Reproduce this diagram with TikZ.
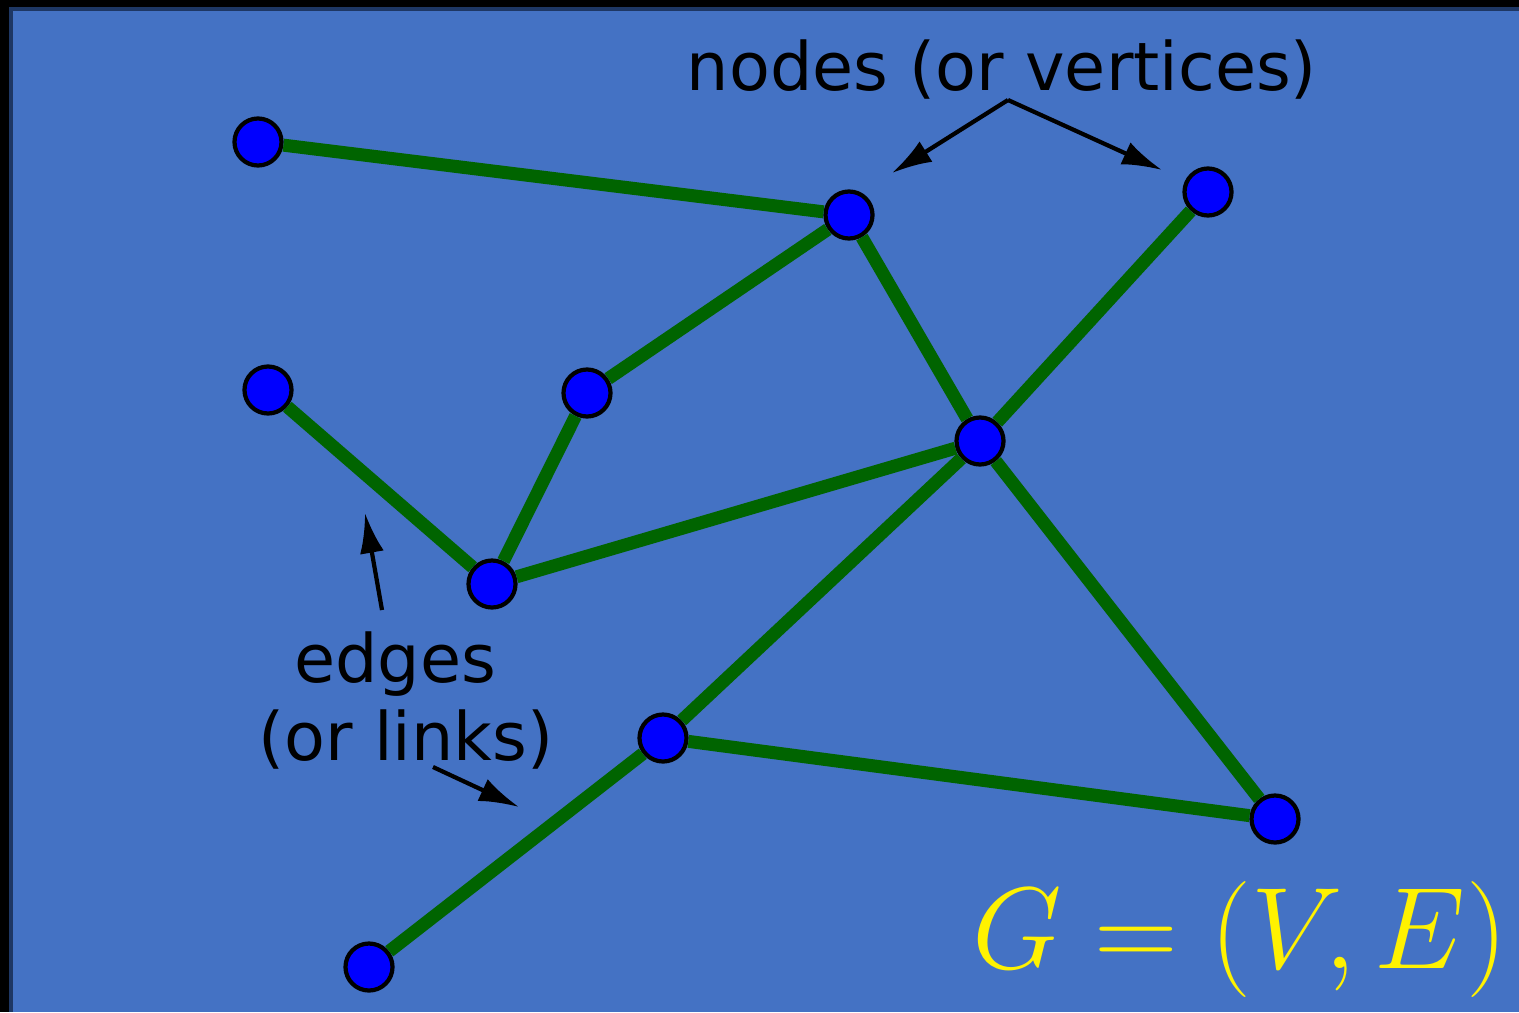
\documentclass[tikz,border=0pt]{standalone}
\usepackage{fix-cm}
\usepackage{fontspec}
\newfontfamily\labelfont{DejaVu Sans}
\usetikzlibrary{arrows.meta}
\definecolor{bgblue}{RGB}{68,114,196}
\definecolor{edgegreen}{RGB}{0,100,0}
\definecolor{vertexblue}{RGB}{0,0,255}
\definecolor{framedark}{RGB}{30,55,100}

\begin{document}
\begin{tikzpicture}[
    x=0.01cm, y=-0.01cm,
    vertex/.style={circle, draw=black, line width=1.2pt, fill=vertexblue, inner sep=0pt, minimum size=0.47cm},
    link/.style={edgegreen, line width=0.13cm},
    pointer/.style={-{Latex[length=0.4cm,width=0.24cm]}, line width=1.2pt, black},
    caption/.style={font=\labelfont\fontsize{19}{22}\selectfont, text=black, inner sep=0pt, align=center}
]
    \useasboundingbox (0,0) rectangle (1519,1012);
    % background
    \fill[black] (0,0) rectangle (1519,1012);
    \fill[bgblue] (10,8) rectangle (1519,1012);
    \draw[framedark, line width=1pt] (11,1012) -- (11,9) -- (1519,9);
    % vertices
    \node (a) [vertex] at (258,142) {};
    \node (b) [vertex] at (849,215) {};
    \node (c) [vertex] at (1208,192) {};
    \node (d) [vertex] at (268,390) {};
    \node (e) [vertex] at (587,393) {};
    \node (f) [vertex] at (980,441) {};
    \node (g) [vertex] at (492,584) {};
    \node (h) [vertex] at (663,738) {};
    \node (i) [vertex] at (1275,819) {};
    \node (j) [vertex] at (369,967) {};
    % edges
    \foreach \u/\v in {a/b, b/e, b/f, c/f, d/g, e/g, g/f, f/h, f/i, h/i, h/j}
        \draw [link] (\u) -- (\v);
    % labels
    \node (nodestext) [caption, anchor=base] at (1002,90) {nodes (or vertices)};
    \node (edgestext) [caption, anchor=base] at (395,682) {edges};
    \node (linkstext) [caption, anchor=base] at (406,760) {(or links)};
    \node (formula) [anchor=base, inner sep=0pt, text=yellow, font=\fontsize{33}{40}\selectfont] at (1240,968) {$G=(V,E)$};
    % pointers
    \coordinate (nodesfork) at (1008,100);
    \coordinate (nodesleft) at (892,173);
    \coordinate (nodesright) at (1162,170);
    \coordinate (edgesfoot) at (382,610);
    \coordinate (edgestip) at (365,513);
    \coordinate (linksfoot) at (433,767);
    \coordinate (linkstip) at (519,807);
    \draw [pointer] (nodesfork) -- (nodesleft);
    \draw [pointer] (nodesfork) -- (nodesright);
    \draw [pointer] (edgesfoot) -- (edgestip);
    \draw [pointer] (linksfoot) -- (linkstip);
\end{tikzpicture}
\end{document}
